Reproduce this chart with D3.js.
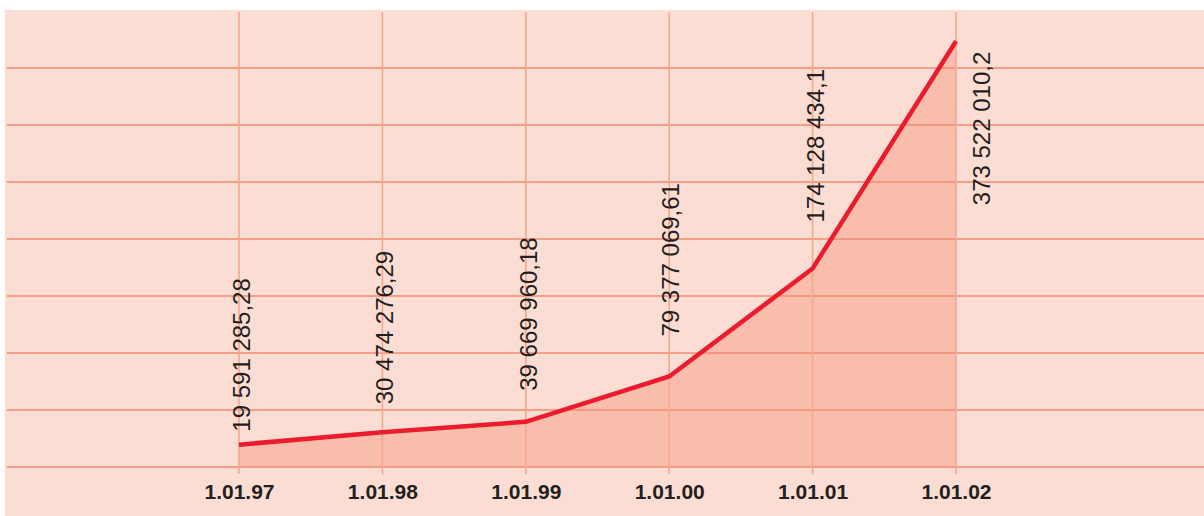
<!DOCTYPE html>
<html>
<head>
<meta charset="utf-8">
<script src="https://cdn.jsdelivr.net/npm/d3@7"></script>
<style>
  html, body { margin: 0; padding: 0; background: #fff; }
  svg { display: block; font-family: "Liberation Sans", Arial, sans-serif; }
  .x-axis text { font-size: 21px; font-weight: bold; fill: #231f20; }
  .value-label { font-size: 24px; fill: #231f20; }
</style>
</head>
<body>
<script>
// data
const dates = ["1.01.97", "1.01.98", "1.01.99", "1.01.00", "1.01.01", "1.01.02"];
const values = [19591285.28, 30474276.29, 39669960.18, 79377069.61, 174128434.1, 373522010.2];
const valueLabels = ["19 591 285,28", "30 474 276,29", "39 669 960,18", "79 377 069,61", "174 128 434,1", "373 522 010,2"];
const gridValues = [0, 50e6, 100e6, 150e6, 200e6, 250e6, 300e6, 350e6];

// label nudges (px): sideways and above the point
const labelDx = [2, 2, 3, 1, 3, 25];
const labelGap = [13, 28, 31, 40, 46, -164];

const width = 1204, height = 516;

const svg = d3.select("body")
  .append("svg")
  .attr("width", width)
  .attr("height", height);

svg.append("rect")
  .attr("x", 5)
  .attr("y", 10)
  .attr("width", width - 5)
  .attr("height", height - 10)
  .attr("fill", "#fcddd3");

const x = d3.scalePoint().domain(dates).range([239, 956]);
const y = d3.scaleLinear().domain([0, 400e6]).range([467, 11]);

const data = dates.map((d, i) => ({ date: d, value: values[i], label: valueLabels[i] }));

// area under the line
const area = d3.area()
  .x(d => x(d.date))
  .y0(y(0))
  .y1(d => y(d.value));

svg.append("path")
  .datum(data)
  .attr("fill", "#f9bdab")
  .attr("d", area);

// horizontal grid
svg.append("g")
  .selectAll("line")
  .data(gridValues)
  .enter()
  .append("line")
  .attr("x1", 7)
  .attr("x2", width)
  .attr("y1", d => y(d))
  .attr("y2", d => y(d))
  .attr("stroke", "#f38a71")
  .attr("stroke-width", 1.3);

// vertical grid
svg.append("g")
  .selectAll("line")
  .data(dates)
  .enter()
  .append("line")
  .attr("x1", d => x(d))
  .attr("x2", d => x(d))
  .attr("y1", 12)
  .attr("y2", 474)
  .attr("stroke", "#f7a690")
  .attr("stroke-width", 1.6);

// line
const line = d3.line()
  .x(d => x(d.date))
  .y(d => y(d.value));

svg.append("path")
  .datum(data)
  .attr("fill", "none")
  .attr("stroke", "#ec1b2e")
  .attr("stroke-width", 4.5)
  .attr("d", line);

// x axis labels
const xAxis = d3.axisBottom(x).tickSize(0).tickPadding(17);

svg.append("g")
  .attr("class", "x-axis")
  .attr("transform", `translate(0, ${y(0)})`)
  .call(xAxis)
  .call(g => g.select(".domain").remove())
  .selectAll("text")
  .attr("font-family", null)
  .attr("font-size", null);

// value labels, rotated
svg.selectAll(".value-label")
  .data(data)
  .enter()
  .append("text")
  .attr("class", "value-label")
  .attr("dominant-baseline", "central")
  .attr("transform", (d, i) =>
    `translate(${x(d.date) + labelDx[i]}, ${y(d.value) - labelGap[i]}) rotate(-90)`)
  .text(d => d.label);
</script>
</body>
</html>
